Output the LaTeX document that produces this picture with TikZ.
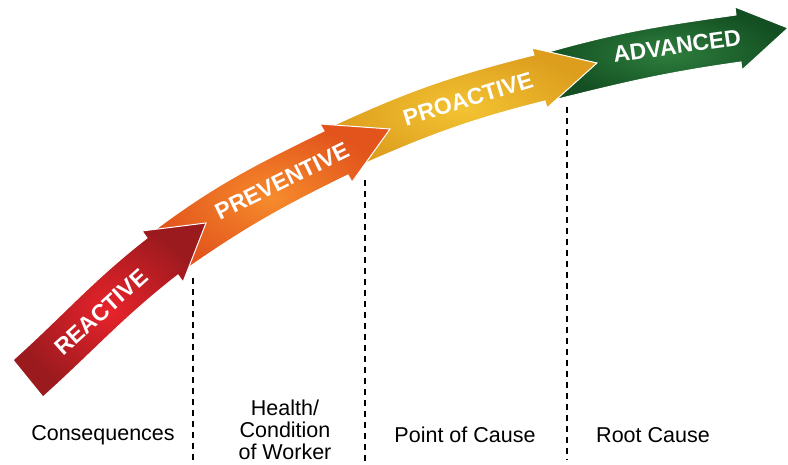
\documentclass[tikz,border=0pt]{standalone}
\usepackage{fontspec}
\setmainfont{Liberation Sans}
\definecolor{redin}{HTML}{E8232B}
\definecolor{redout}{HTML}{9A1A1E}
\definecolor{orgin}{HTML}{F68B2C}
\definecolor{orgout}{HTML}{E2541C}
\definecolor{ylwin}{HTML}{F3C332}
\definecolor{ylwout}{HTML}{DD9E1E}
\definecolor{grnin}{HTML}{2E7E3D}
\definecolor{grnout}{HTML}{134F22}

\begin{document}
\begin{tikzpicture}[x=1pt,y=1pt,
    band/.style={draw=white,line width=1},
    tag/.style={text=white,inner sep=0,font=\fontsize{23pt}{23pt}\selectfont\bfseries},
    level/.style={align=center,inner sep=0,font=\fontsize{21.5pt}{22pt}\selectfont},
    divider/.style={line width=1.4,dash pattern=on 6pt off 5pt}]
            \useasboundingbox (0,0) rectangle (788,465);
            % advanced arrow (back)
            \shade [band,inner color=grnin,outer color=grnout] (545,412) to[out=16,in=188] (736,450) -- (735,458) -- (788,437) -- (742,395) -- (741,403) to[out=188,in=14] (558,366) -- cycle;
            % proactive arrow
            \shade [band,inner color=ylwin,outer color=ylwout] (330,338) to[out=25,in=194] (534,410) -- (532,417) -- (597,402) -- (547,357) -- (545,364) to[out=194,in=24] (350,295) -- cycle;
            % preventive arrow
            \shade [band,inner color=orgin,outer color=orgout] (152,233) to[out=37,in=206] (324,334) -- (320,341) -- (390,336) -- (352,283) -- (348,290) to[out=206,in=35] (182,193) -- cycle;
            % reactive arrow (front)
            \shade [band,inner color=redin,outer color=redout] (13,105) to[out=42,in=218] (147,227) -- (142,234) -- (206,242) -- (183,183) -- (178,190) to[out=218,in=42] (43,68) -- cycle;
            % arrow labels
            \node [tag,rotate=42] (reactive) at (101,153) {REACTIVE};
            \node [tag,rotate=26] (preventive) at (282,284) {PREVENTIVE};
            \node [tag,rotate=17] (proactive) at (468,366) {PROACTIVE};
            \node [tag,rotate=8] (advanced) at (677,419) {ADVANCED};
            % dashed dividers
            \coordinate (cut1) at (193,187);
            \coordinate (cut1end) at (193,0);
            \coordinate (cut2) at (365,285);
            \coordinate (cut2end) at (365,0);
            \coordinate (cut3) at (567,358);
            \coordinate (cut3end) at (567,5);
            \draw [divider] (cut1) -- (cut1end);
            \draw [divider] (cut2) -- (cut2end);
            \draw [divider] (cut3) -- (cut3end);
            % bottom labels
            \node [level] (conseq) at (103,30) {Consequences};
            \node [level] (health) at (285,35) {Health/\\Condition\\of Worker};
            \node [level] (pointcause) at (465,30) {Point of Cause};
            \node [level] (rootcause) at (653,30) {Root Cause};
\end{tikzpicture}
\end{document}
